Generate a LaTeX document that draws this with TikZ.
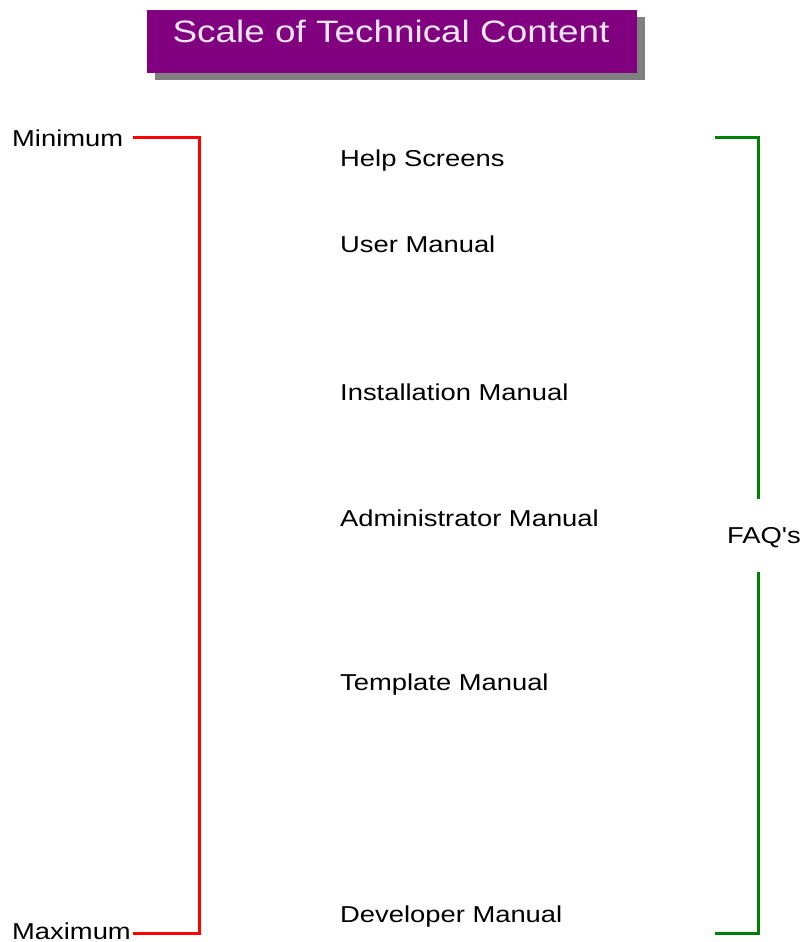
\documentclass[tikz,border=0pt]{standalone}
\usepackage{fontspec}
\newfontfamily\lsans{Liberation Sans}
\definecolor{titlepurple}{HTML}{800080}
\definecolor{shadowgray}{HTML}{808080}
\definecolor{titletext}{HTML}{EEE6F6}
\definecolor{bracketred}{HTML}{FF0000}
\definecolor{bracketgreen}{HTML}{008000}
\newcommand\wdtxt[1]{\scalebox{1.19}[1]{#1}}
\begin{document}
\begin{tikzpicture}[x=1pt,y=-1pt,
  lbl/.style={anchor=base west,inner sep=0pt,font=\lsans\fontsize{23}{26}\selectfont},
  redline/.style={draw=bracketred,line width=3pt},
  greenline/.style={draw=bracketgreen,line width=3pt}]
\useasboundingbox (0,0) rectangle (803,942);
% title
\fill[shadowgray] (155,17) rectangle (645,80);
\node[fill=titlepurple,minimum width=490pt,minimum height=63pt,inner sep=0pt,anchor=north west] (title) at (147,10) {};
\node[anchor=base,inner sep=0pt,text=titletext,font=\lsans\fontsize{31}{34}\selectfont] (titletxt) at (391,43) {\wdtxt{Scale of Technical Content}};
% left scale
\node[lbl] (min) at (12,146) {\wdtxt{Minimum}};
\node[lbl] (max) at (12,939) {\wdtxt{Maximum}};
\coordinate (r1) at (133,137);
\coordinate (r2) at (199,137);
\coordinate (r3) at (199,933);
\coordinate (r4) at (133,933);
\draw[redline] (r1) -- (r2) -- (r3) -- (r4);
% items
\node[lbl] (help) at (340,166) {\wdtxt{Help Screens}};
\node[lbl] (user) at (340,252) {\wdtxt{User Manual}};
\node[lbl] (inst) at (340,400) {\wdtxt{Installation Manual}};
\node[lbl] (admin) at (340,526) {\wdtxt{Administrator Manual}};
\node[lbl] (tmpl) at (340,690) {\wdtxt{Template Manual}};
\node[lbl] (dev) at (340,922) {\wdtxt{Developer Manual}};
% right bracket
\node[lbl] (faq) at (727,543) {\wdtxt{FAQ's}};
\coordinate (g1) at (715,137);
\coordinate (g2) at (758,137);
\coordinate (g3) at (758,499);
\coordinate (g4) at (758,572);
\coordinate (g5) at (758,933);
\coordinate (g6) at (715,933);
\draw[greenline] (g1) -- (g2) -- (g3);
\draw[greenline] (g4) -- (g5) -- (g6);
\end{tikzpicture}
\end{document}
